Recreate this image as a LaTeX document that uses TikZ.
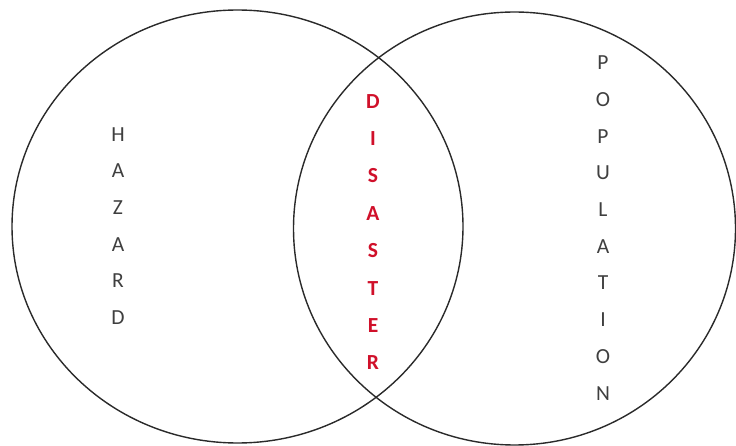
\documentclass[tikz,border=0pt]{standalone}
\usepackage{fontspec}
\setmainfont{Carlito}
\usepackage{tikz}
\definecolor{ink}{HTML}{2A2A2A}
\definecolor{disc}{HTML}{D0102A}

\begin{document}
\begin{tikzpicture}[
  x=1pt, y=-1pt,
  ring/.style={draw=ink, line width=1.4pt},
  word/.style={align=center, inner sep=0pt, text=ink!90,
               font=\fontsize{21.5}{36.7}\selectfont},
]
\useasboundingbox (0,0) rectangle (736,446);
% -- the two sets
\draw[ring] (237.5,226.5) ellipse [x radius=225.5pt, y radius=216.5pt];
\draw[ring] (514.5,228.5) ellipse [x radius=221pt, y radius=216.5pt];
% -- labels, one letter per line
\node[word] (hazard) at (118,226) {H\\A\\Z\\A\\R\\D};
\node[word] (population) at (603,228) {P\\O\\P\\U\\L\\A\\T\\I\\O\\N};
\node[word, text=disc, font=\fontsize{21.5}{37.4}\selectfont\bfseries] (disaster) at (373,232) {D\\I\\S\\A\\S\\T\\E\\R};
\end{tikzpicture}
\end{document}
